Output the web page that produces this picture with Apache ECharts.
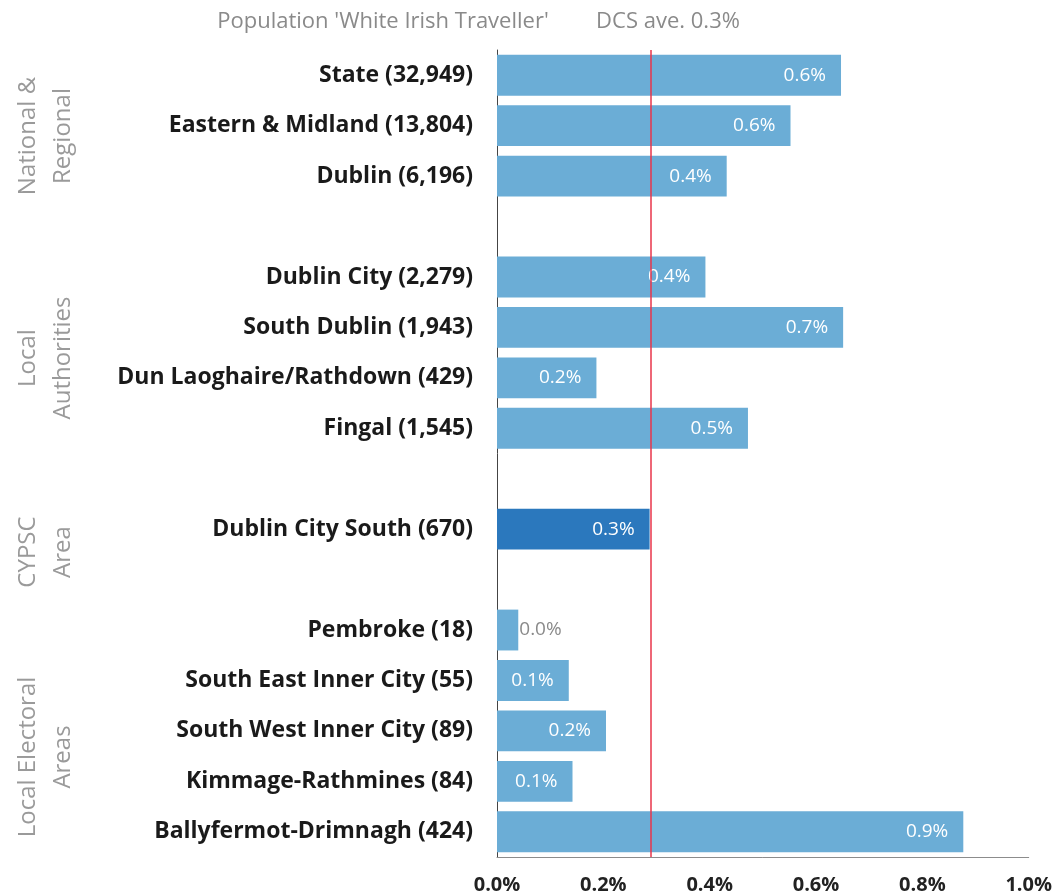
<!DOCTYPE html>
<html>
<head>
<meta charset="utf-8">
<script src="https://cdn.jsdelivr.net/npm/echarts@6/dist/echarts.min.js"></script>
<style>html,body{margin:0;padding:0;background:#fff}#c{width:1055px;height:896px}</style>
</head>
<body>
<div id="c"></div>
<script>
// Categories top-to-bottom ('' = spacer row between groups)
const categories = ['State (32,949)', 'Eastern & Midland (13,804)', 'Dublin (6,196)', '',
  'Dublin City (2,279)', 'South Dublin (1,943)', 'Dun Laoghaire/Rathdown (429)', 'Fingal (1,545)', ' ',
  'Dublin City South (670)', '  ',
  'Pembroke (18)', 'South East Inner City (55)', 'South West Inner City (89)', 'Kimmage-Rathmines (84)', 'Ballyfermot-Drimnagh (424)'];
const values = [0.647, 0.552, 0.432, null, 0.392, 0.651, 0.187, 0.472, null, 0.287, null, 0.04, 0.135, 0.205, 0.142, 0.877];
const valueLabels = ['0.6%', '0.6%', '0.4%', '', '0.4%', '0.7%', '0.2%', '0.5%', '', '0.3%', '', '0.0%', '0.1%', '0.2%', '0.1%', '0.9%'];
const highlightIndex = 9;
const dcsAverage = 0.288;
const xTicks = ['0.0%', '0.2%', '0.4%', '0.6%', '0.8%', '1.0%'];
const groups = [
  { text: 'National &\nRegional', y: 136 },
  { text: 'Local\nAuthorities', y: 358 },
  { text: 'CYPSC\nArea', y: 552 },
  { text: 'Local Electoral\nAreas', y: 757 }
];

const FONT = '"Open Sans", sans-serif';
const chart = echarts.init(document.getElementById('c'));

const data = values.map((v, i) => {
  if (v === null) return '-';
  const item = { value: v, label: {} };
  if (i === highlightIndex) item.itemStyle = { color: '#2b78bd' };
  if (v < 0.08) item.label = { position: 'right', color: '#8a8a8a', offset: [-4, 0] };
  return item;
});

chart.setOption({
  animation: false,
  backgroundColor: '#fff',
  textStyle: { fontFamily: FONT },
  grid: { left: 497, right: 25, top: 50, bottom: 39, containLabel: false },
  title: [
    { text: "Population 'White Irish Traveller'", left: 378, top: 6, textAlign: 'center',
      textStyle: { fontFamily: FONT, fontSize: 22, fontWeight: 'normal', color: '#8a8a8a' } },
    { text: 'DCS ave. 0.3%', left: 663, top: 6, textAlign: 'center',
      textStyle: { fontFamily: FONT, fontSize: 22, fontWeight: 'normal', color: '#8a8a8a' } }
  ],
  xAxis: {
    type: 'value', min: 0, max: 1, interval: 0.2,
    axisLine: { show: true, lineStyle: { color: '#8c8c8c', width: 1 } },
    axisTick: { show: false },
    splitLine: { show: false },
    axisLabel: {
      margin: 18, fontFamily: FONT, fontSize: 20, fontWeight: 'bold', color: '#222',
      formatter: (v) => xTicks[Math.round(v / 0.2)]
    }
  },
  yAxis: {
    type: 'category', data: categories, inverse: true,
    axisLine: { show: true, lineStyle: { color: '#444', width: 1 } },
    axisTick: { show: false },
    axisLabel: { margin: 24, fontFamily: FONT, fontSize: 23, fontWeight: 'bold', color: '#1a1a1a', interval: 0 }
  },
  series: [{
    type: 'bar',
    data: data,
    barCategoryGap: '19%',
    itemStyle: { color: '#6badd6' },
    label: {
      show: true, position: 'insideRight', offset: [-10, 0],
      fontFamily: FONT, fontSize: 19, color: '#fff',
      formatter: (p) => valueLabels[p.dataIndex]
    },
    markLine: {
      silent: true, symbol: 'none',
      label: { show: false },
      lineStyle: { color: '#e8354a', width: 1.5, type: 'solid' },
      data: [{ xAxis: dcsAverage }]
    }
  }],
  graphic: groups.map(g => ({
    type: 'text', x: 46, y: g.y, rotation: Math.PI / 2,
    style: { text: g.text, fontFamily: FONT, fontSize: 24, fill: '#9a9a9a',
      align: 'center', verticalAlign: 'middle', lineHeight: 35 }
  }))
});
</script>
</body>
</html>
